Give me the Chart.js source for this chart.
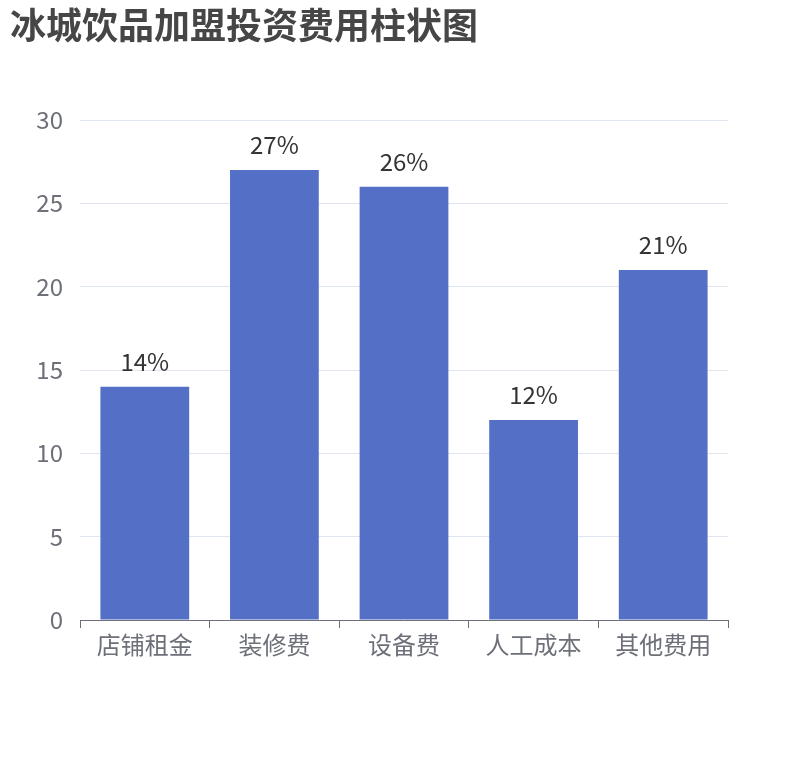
<!DOCTYPE html>
<html>
<head>
<meta charset="utf-8">
<script src="https://cdn.jsdelivr.net/npm/chart.js@4/dist/chart.umd.min.js"></script>
<style>
  body { margin: 0; background: #fff; }
  #wrap { width: 810px; height: 760px; }
</style>
</head>
<body>
<div id="wrap"><canvas id="chart"></canvas></div>
<script>
const titleText = '冰城饮品加盟投资费用柱状图';
const categories = ['店铺租金', '装修费', '设备费', '人工成本', '其他费用'];
const values = [14, 27, 26, 12, 21];
const yTicks = [0, 5, 10, 15, 20, 25, 30];

const fontFamily = '"Noto Sans CJK SC", "Noto Sans", sans-serif';

// labels over each bar, placed from the bar elements
const barLabels = {
    id: 'barLabels',
    afterDatasetsDraw(chart) {
        const ctx = chart.ctx;
        const meta = chart.getDatasetMeta(0);
        ctx.save();
        ctx.font = '24px ' + fontFamily;
        ctx.fillStyle = '#333333';
        ctx.textAlign = 'center';
        ctx.textBaseline = 'alphabetic';
        meta.data.forEach((bar, i) => {
            ctx.fillText(values[i] + '%', bar.x, bar.y - 16);
        });
        ctx.restore();
    }
};

new Chart(document.getElementById('chart').getContext('2d'), {
    type: 'bar',
    data: {
        labels: categories,
        datasets: [{
            data: values,
            backgroundColor: '#5470c6',
            categoryPercentage: 1,
            barPercentage: 0.685
        }]
    },
    options: {
        responsive: true,
        maintainAspectRatio: false,
        animation: false,
        layout: {
            padding: { left: 10, right: 82, top: 0, bottom: 90 }
        },
        plugins: {
            legend: { display: false },
            tooltip: { enabled: false },
            title: {
                display: true,
                text: titleText,
                align: 'start',
                color: '#464646',
                font: { family: fontFamily, size: 36, weight: 'bold', lineHeight: 1.2 },
                padding: { top: 4, bottom: 72.8 }
            }
        },
        scales: {
            x: {
                grid: {
                    display: true,
                    drawOnChartArea: false,
                    drawTicks: true,
                    tickLength: 8,
                    offset: true,
                    color: '#6e7079'
                },
                border: { display: true, color: '#6e7079', width: 1 },
                ticks: {
                    color: '#6e7079',
                    font: { family: fontFamily, size: 24 },
                    padding: 2,
                    maxRotation: 0
                },
                afterFit(scale) { scale.height = 50; }
            },
            y: {
                min: 0,
                max: 30,
                grid: {
                    color: '#e0e6f1',
                    drawTicks: false
                },
                border: { display: false },
                afterBuildTicks(scale) {
                    scale.ticks = yTicks.map(v => ({ value: v }));
                },
                ticks: {
                    color: '#6e7079',
                    font: { family: fontFamily, size: 24 },
                    padding: 17
                },
                afterFit(scale) { scale.width = 70; }
            }
        }
    },
    plugins: [barLabels]
});
</script>
</body>
</html>
